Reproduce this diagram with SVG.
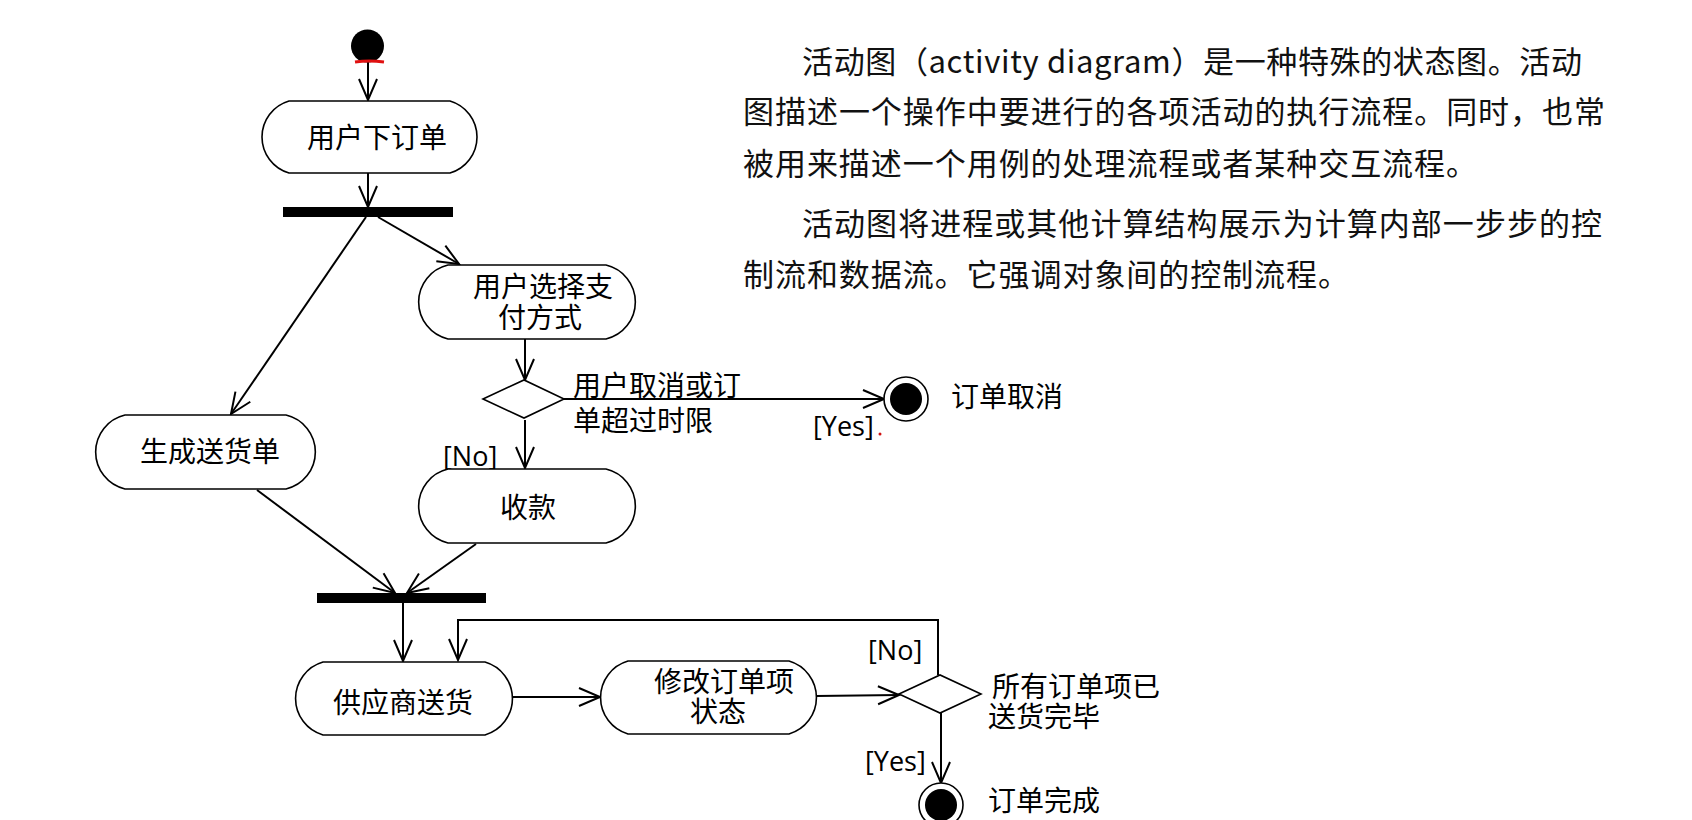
<svg xmlns="http://www.w3.org/2000/svg" width="1692" height="820" viewBox="0 0 1692 820">
<style>
.node{fill:#fff;stroke:#000;stroke-width:1.6}
.conn{fill:none;stroke:#000;stroke-width:2}
.lbl{font-family:"Noto Sans CJK SC","Noto Sans CJK TC",sans-serif;font-size:28px;fill:#000}
.lat{font-family:"Open Sans","Noto Sans CJK SC",sans-serif;font-size:27px;fill:#000}
.para{font-family:"Noto Sans CJK SC","Noto Sans CJK TC",sans-serif;font-size:31px;fill:#111}
</style>
<defs>
<marker id="arr" viewBox="-23 -12 25 24" refX="0" refY="0" markerWidth="25" markerHeight="24" markerUnits="userSpaceOnUse" orient="auto">
<path d="M-21,-9 L0,0 L-21,9" fill="none" stroke="#000" stroke-width="2"/>
</marker>
</defs>
<rect width="1692" height="820" fill="#fff"/>

<g id="connectors">
<line class="conn" x1="368" y1="62" x2="368" y2="100" marker-end="url(#arr)"/>
<line class="conn" x1="368" y1="173" x2="368" y2="207" marker-end="url(#arr)"/>
<line class="conn" x1="366" y1="217" x2="231" y2="414" marker-end="url(#arr)"/>
<line class="conn" x1="378" y1="217" x2="459" y2="264" marker-end="url(#arr)"/>
<line class="conn" x1="525" y1="339" x2="525" y2="380" marker-end="url(#arr)"/>
<line class="conn" x1="564" y1="399" x2="884" y2="399" marker-end="url(#arr)"/>
<line class="conn" x1="525" y1="420" x2="525" y2="468" marker-end="url(#arr)"/>
<line class="conn" x1="257" y1="490" x2="395" y2="593" marker-end="url(#arr)"/>
<line class="conn" x1="476" y1="544" x2="407" y2="593" marker-end="url(#arr)"/>
<line class="conn" x1="403" y1="603" x2="403" y2="661" marker-end="url(#arr)"/>
<polyline class="conn" points="938,675 938,620 458,620 458,660" marker-end="url(#arr)"/>
<line class="conn" x1="512" y1="697" x2="600" y2="697" marker-end="url(#arr)"/>
<line class="conn" x1="816" y1="696" x2="899" y2="695" marker-end="url(#arr)"/>
<line class="conn" x1="941" y1="713" x2="941" y2="783" marker-end="url(#arr)"/>
</g>

<g id="start">
<circle cx="367.5" cy="46" r="16.5" fill="#000"/>
<path d="M355,62 Q369,60 384,62" fill="none" stroke="#e01010" stroke-width="3"/>
</g>

<g id="n_order">
<path class="node" d="M289,101 H450 A37.5,37.5 0 0 1 450,173 H289 A37.5,37.5 0 0 1 289,101 Z"/>
<text class="lbl" x="377" y="148" text-anchor="middle">用户下订单</text>
</g>

<g id="fork1"><rect x="283" y="207" width="170" height="10" fill="#000"/></g>

<g id="n_pay">
<path class="node" d="M448,265 H606 A38,38 0 0 1 606,339 H448 A38,38 0 0 1 448,265 Z"/>
<text class="lbl" x="543" y="297" text-anchor="middle">用户选择支</text>
<text class="lbl" x="540" y="328" text-anchor="middle">付方式</text>
</g>

<g id="d_cancel">
<polygon points="483,399 524,380 564,399 524,418" fill="#fff" stroke="#000" stroke-width="1.6"/>
<text class="lbl" x="573" y="396">用户取消或订</text>
<text class="lbl" x="573" y="431">单超过时限</text>
<text class="lat" x="813" y="436">[Yes]</text>
<text class="lat" x="443" y="466">[No]</text>
<circle cx="880" cy="434" r="1.5" fill="#d01010"/>
</g>

<g id="end_cancel">
<circle cx="906" cy="399" r="22" fill="#fff" stroke="#000" stroke-width="1.6"/>
<circle cx="906" cy="399" r="16" fill="#000"/>
<text class="lbl" x="951" y="407">订单取消</text>
</g>

<g id="n_ship">
<path class="node" d="M125,415 H286 A38,38 0 0 1 286,489 H125 A38,38 0 0 1 125,415 Z"/>
<text class="lbl" x="210" y="462" text-anchor="middle">生成送货单</text>
</g>

<g id="n_pay2">
<path class="node" d="M448,469 H606 A38,38 0 0 1 606,543 H448 A38,38 0 0 1 448,469 Z"/>
<text class="lbl" x="528" y="518" text-anchor="middle">收款</text>
</g>

<g id="join1"><rect x="317" y="593" width="169" height="10" fill="#000"/></g>

<g id="n_deliver">
<path class="node" d="M323,662 H485 A38,38 0 0 1 485,735 H323 A38,38 0 0 1 323,662 Z"/>
<text class="lbl" x="403" y="713" text-anchor="middle">供应商送货</text>
</g>

<g id="n_update">
<path class="node" d="M628,661 H789 A38,38 0 0 1 789,734 H628 A38,38 0 0 1 628,661 Z"/>
<text class="lbl" x="724" y="692" text-anchor="middle">修改订单项</text>
<text class="lbl" x="718" y="722" text-anchor="middle">状态</text>
</g>

<g id="d_done">
<polygon points="899,694 940,675 981,694 940,713" fill="#fff" stroke="#000" stroke-width="1.6"/>
<text class="lat" x="868" y="660">[No]</text>
<text class="lbl" x="992" y="697">所有订单项已</text>
<text class="lbl" x="988" y="727">送货完毕</text>
<text class="lat" x="865" y="771">[Yes]</text>
</g>

<g id="end_done">
<circle cx="941" cy="805" r="22" fill="#fff" stroke="#000" stroke-width="1.6"/>
<circle cx="941" cy="805" r="16" fill="#000"/>
<text class="lbl" x="988" y="811">订单完成</text>
</g>

<g id="paragraph">
<text class="para" x="802" y="73" textLength="780" lengthAdjust="spacing">活动图（activity diagram）是一种特殊的状态图。活动</text>
<text class="para" x="743" y="123" textLength="862" lengthAdjust="spacing">图描述一个操作中要进行的各项活动的执行流程。同时，也常</text>
<text class="para" x="743" y="175" textLength="734" lengthAdjust="spacing">被用来描述一个用例的处理流程或者某种交互流程。</text>
<text class="para" x="802" y="235" textLength="800" lengthAdjust="spacing">活动图将进程或其他计算结构展示为计算内部一步步的控</text>
<text class="para" x="743" y="286" textLength="606" lengthAdjust="spacing">制流和数据流。它强调对象间的控制流程。</text>
</g>
</svg>
